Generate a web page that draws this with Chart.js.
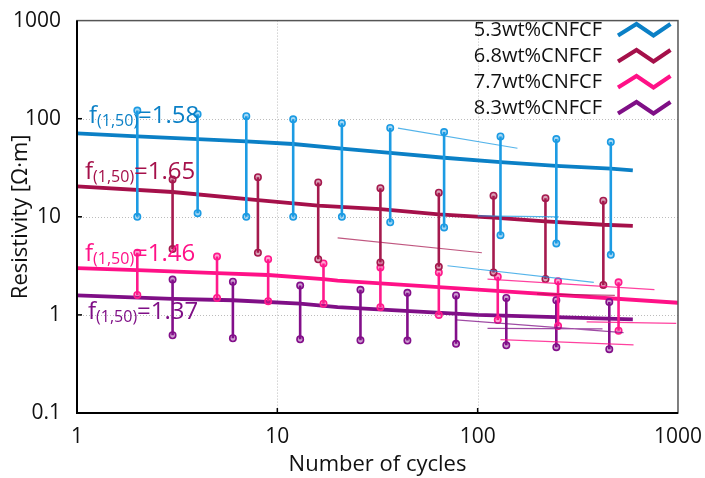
<!DOCTYPE html>
<html>
<head>
<meta charset="utf-8">
<script src="https://cdn.jsdelivr.net/npm/chart.js@4"></script>
<style>
  body { margin: 0; background: #fff; }
  #wrap { width: 705px; height: 478px; }
</style>
</head>
<body>
<div id="wrap"><canvas id="resChart" width="705" height="478"></canvas></div>
<script>
// tick labels
const xTicks = [1, 10, 100, 1000]
const yTicks = [0.1, 1, 10, 100, 1000]

// legend / series names
const seriesNames = ['5.3wt%CNFCF', '6.8wt%CNFCF', '7.7wt%CNFCF', '8.3wt%CNFCF']
const fitLabels = ['1.58', '1.65', '1.46', '1.37']

// fitted lines (cycles, resistivity)
const blueFitX = [1, 2, 4, 7, 12, 21, 36.6, 68, 130, 247, 462, 595]
const blueFitY = [70.7, 66, 62, 58.8, 55.2, 49.5, 44.8, 40, 36.1, 33, 31, 29.7]
const redFitX = [1, 3, 8, 16, 32.7, 64, 120, 218, 424, 595]
const redFitY = [20.4, 17.9, 14.8, 13.0, 12.0, 10.6, 9.8, 9.0, 8.3, 8.1]
const pinkFitX = [1, 2, 5, 9, 17, 20, 100, 1000]
const pinkFitY = [3.0, 2.86, 2.67, 2.55, 2.32, 2.24, 1.81, 1.33]
const purpleFitX = [1, 3, 6, 13, 20, 100, 595]
const purpleFitY = [1.58, 1.46, 1.41, 1.30, 1.2, 1.0, 0.90]

// min / max bars
const blueBarX = [2, 4, 7, 12, 21, 36.6, 68, 130, 247, 462]
const blueBarHi = [121, 111, 106, 98.6, 90, 80.6, 73, 66, 62, 57.8]
const blueBarLo = [10, 10.9, 10, 10, 10, 8.8, 7.8, 6.5, 5.35, 4.1]
const redBarX = [3, 8, 16, 32.7, 64, 120, 218, 424]
const redBarHi = [24, 25.3, 22.4, 19.6, 17.6, 16.4, 15.5, 14.6]
const redBarLo = [4.7, 4.3, 3.69, 3.42, 3.09, 2.71, 2.32, 2.02]
const pinkBarX = [2, 5, 9, 17, 32.7, 64, 126, 252, 505]
const pinkBarHi = [4.3, 3.93, 3.69, 3.34, 3.04, 2.71, 2.45, 2.2, 2.15]
const pinkBarLo = [1.6, 1.49, 1.38, 1.30, 1.20, 1.0, 0.885, 0.77, 0.69]
const purpleBarX = [3, 6, 13, 26, 44.6, 78, 139, 247, 454]
const purpleBarHi = [2.29, 2.18, 1.99, 1.80, 1.68, 1.58, 1.49, 1.41, 1.35]
const purpleBarLo = [0.62, 0.578, 0.564, 0.551, 0.547, 0.507, 0.49, 0.469, 0.447]

// a few raw sample curves (start/end)
const rawBlue = [[40, 80, 158, 50], [100, 10.2, 254, 10], [70.7, 3.17, 380, 2.15]]
const rawRed = [[20, 6.1, 105, 4.3], [198, 1.64, 484, 1.58]]
const rawPink = [[112, 2.32, 763, 1.81], [350, 0.85, 980, 0.82], [130, 0.56, 600, 0.495]]
const rawPurple = [[78, 0.89, 535, 0.66], [112, 0.73, 420, 0.72]]

const colors = {
  blue: '#0b80c6', blueBar: '#1c9be3',
  red: '#a5104a', redBar: '#a51a4e',
  pink: '#ff1187', pinkBar: '#ff1a8c',
  purple: '#7f0f86', purpleBar: '#830f8a',
}
const legendColors = [colors.blue, colors.red, colors.pink, colors.purple]
const FONT = '"Open Sans", "Noto Sans", sans-serif'

const pairs = (xs, ys) => xs.map((x, i) => ({ x, y: ys[i] }))
const bars = (xs, hi, lo) => {
  const out = []
  xs.forEach((x, i) => {
    out.push({ x, y: hi[i] }, { x, y: lo[i] }, { x, y: null })
  })
  return out
}
const raws = (list) => {
  const out = []
  list.forEach((r) => out.push({ x: r[0], y: r[1] }, { x: r[2], y: r[3] }, { x: r[2], y: null }))
  return out
}

const rawSet = (list, color) => ({
  data: raws(list), borderColor: color, borderWidth: 1.2, pointRadius: 0, spanGaps: false,
})
const barSet = (xs, hi, lo, color) => ({
  data: bars(xs, hi, lo), borderColor: color, borderWidth: 2.6, spanGaps: false,
  pointRadius: 3.2, pointBorderWidth: 1.6, pointBorderColor: color,
  pointBackgroundColor: color + '66',
})
const fitSet = (xs, ys, color) => ({
  data: pairs(xs, ys), borderColor: color, borderWidth: 3.8, pointRadius: 0, tension: 0,
})

const frameAndText = {
  id: 'frameAndText',
  beforeDatasetsDraw(chart) {
    const { ctx, chartArea: a, scales } = chart
    ctx.save()
    ctx.strokeStyle = '#bcbcbc'
    ctx.lineWidth = 1
    ctx.setLineDash([1, 2])
    xTicks.slice(1, -1).forEach((v) => {
      const px = Math.round(scales.x.getPixelForValue(v)) + 0.5
      ctx.beginPath(); ctx.moveTo(px, a.top); ctx.lineTo(px, a.bottom); ctx.stroke()
    })
    yTicks.slice(1, -1).forEach((v) => {
      const py = Math.round(scales.y.getPixelForValue(v)) + 0.5
      ctx.beginPath(); ctx.moveTo(a.left, py); ctx.lineTo(a.right, py); ctx.stroke()
    })
    ctx.restore()
  },
  afterDatasetsDraw(chart) {
    const { ctx, chartArea: a, scales } = chart
    ctx.save()
    // frame
    ctx.strokeStyle = '#555'
    ctx.lineWidth = 1.5
    ctx.strokeRect(a.left, a.top, a.right - a.left, a.bottom - a.top)
    ctx.strokeStyle = '#000'
    ctx.lineWidth = 2
    ctx.beginPath()
    ctx.moveTo(a.left, a.top); ctx.lineTo(a.left, a.bottom); ctx.lineTo(a.right, a.bottom)
    ctx.stroke()
    ctx.lineWidth = 1.5
    xTicks.slice(1, -1).forEach((v) => {
      const px = scales.x.getPixelForValue(v)
      ctx.beginPath(); ctx.moveTo(px, a.bottom); ctx.lineTo(px, a.bottom - 5); ctx.stroke()
    })
    yTicks.slice(1, -1).forEach((v) => {
      const py = scales.y.getPixelForValue(v)
      ctx.beginPath(); ctx.moveTo(a.left, py); ctx.lineTo(a.left + 5, py); ctx.stroke()
    })

    // legend
    ctx.font = '20px ' + FONT
    ctx.textAlign = 'right'
    ctx.textBaseline = 'middle'
    seriesNames.forEach((name, i) => {
      const cy = 30 + i * 26
      ctx.fillStyle = '#111'
      ctx.fillText(name, 602, cy)
      ctx.strokeStyle = legendColors[i]
      ctx.lineWidth = 4
      ctx.lineJoin = 'miter'
      ctx.beginPath()
      ctx.moveTo(618, cy + 5.5); ctx.lineTo(636.5, cy - 6); ctx.lineTo(653.5, cy + 5.5); ctx.lineTo(670.5, cy - 6)
      ctx.stroke()
    })

    // fit labels f(1,50)=...
    const labelPos = [[89, 123], [85, 179], [85, 261], [88, 319]]
    ctx.textAlign = 'left'
    ctx.textBaseline = 'alphabetic'
    fitLabels.forEach((val, i) => {
      let [x, y] = labelPos[i]
      ctx.fillStyle = legendColors[i]
      ctx.font = '24px ' + FONT
      ctx.fillText('f', x, y)
      x += ctx.measureText('f').width
      ctx.font = '16px ' + FONT
      ctx.fillText('(1,50)', x, y + 3)
      x += ctx.measureText('(1,50)').width
      ctx.font = '24px ' + FONT
      ctx.fillText('=' + val, x, y)
    })
    ctx.restore()
  },
}

const logTick = (v) => (xTicks.includes(v) || yTicks.includes(v) ? String(v) : '')

new Chart(document.getElementById('resChart'), {
  type: 'line',
  data: {
    datasets: [
      rawSet(rawBlue, 'rgba(28,155,227,0.75)'),
      rawSet(rawRed, 'rgba(165,16,74,0.7)'),
      rawSet(rawPink, 'rgba(255,17,135,0.8)'),
      rawSet(rawPurple, 'rgba(127,15,134,0.75)'),
      barSet(blueBarX, blueBarHi, blueBarLo, colors.blueBar),
      barSet(redBarX, redBarHi, redBarLo, colors.redBar),
      barSet(pinkBarX, pinkBarHi, pinkBarLo, colors.pinkBar),
      barSet(purpleBarX, purpleBarHi, purpleBarLo, colors.purpleBar),
      fitSet(blueFitX, blueFitY, colors.blue),
      fitSet(redFitX, redFitY, colors.red),
      fitSet(pinkFitX, pinkFitY, colors.pink),
      fitSet(purpleFitX, purpleFitY, colors.purple),
    ],
  },
  options: {
    responsive: false,
    animation: false,
    layout: { padding: { left: 0, top: 16, right: 24, bottom: 0 } },
    plugins: { legend: { display: false }, tooltip: { enabled: false } },
    scales: {
      x: {
        type: 'logarithmic',
        min: 1,
        max: 1000,
        afterBuildTicks(s) { s.ticks = xTicks.map((value) => ({ value })) },
        afterFit(s) { s.height = 65 },
        grid: { display: false },
        border: { display: false },
        ticks: { color: '#111', font: { family: FONT, size: 21 }, padding: 3, callback: logTick, maxRotation: 0 },
        title: { display: true, text: 'Number of cycles', color: '#111', font: { family: FONT, size: 22 }, padding: { top: 0, bottom: 0 } },
      },
      y: {
        type: 'logarithmic',
        min: 0.1,
        max: 1000,
        afterBuildTicks(s) { s.ticks = yTicks.map((value) => ({ value })) },
        afterFit(s) { s.width = 77 },
        grid: { display: false },
        border: { display: false },
        ticks: { color: '#111', font: { family: FONT, size: 21 }, padding: 8, callback: logTick },
        title: { display: true, text: 'Resistivity [Ω·m]', color: '#111', font: { family: FONT, size: 22 }, padding: { top: 8, bottom: 0 } },
      },
    },
  },
  plugins: [frameAndText],
})
</script>
</body>
</html>
